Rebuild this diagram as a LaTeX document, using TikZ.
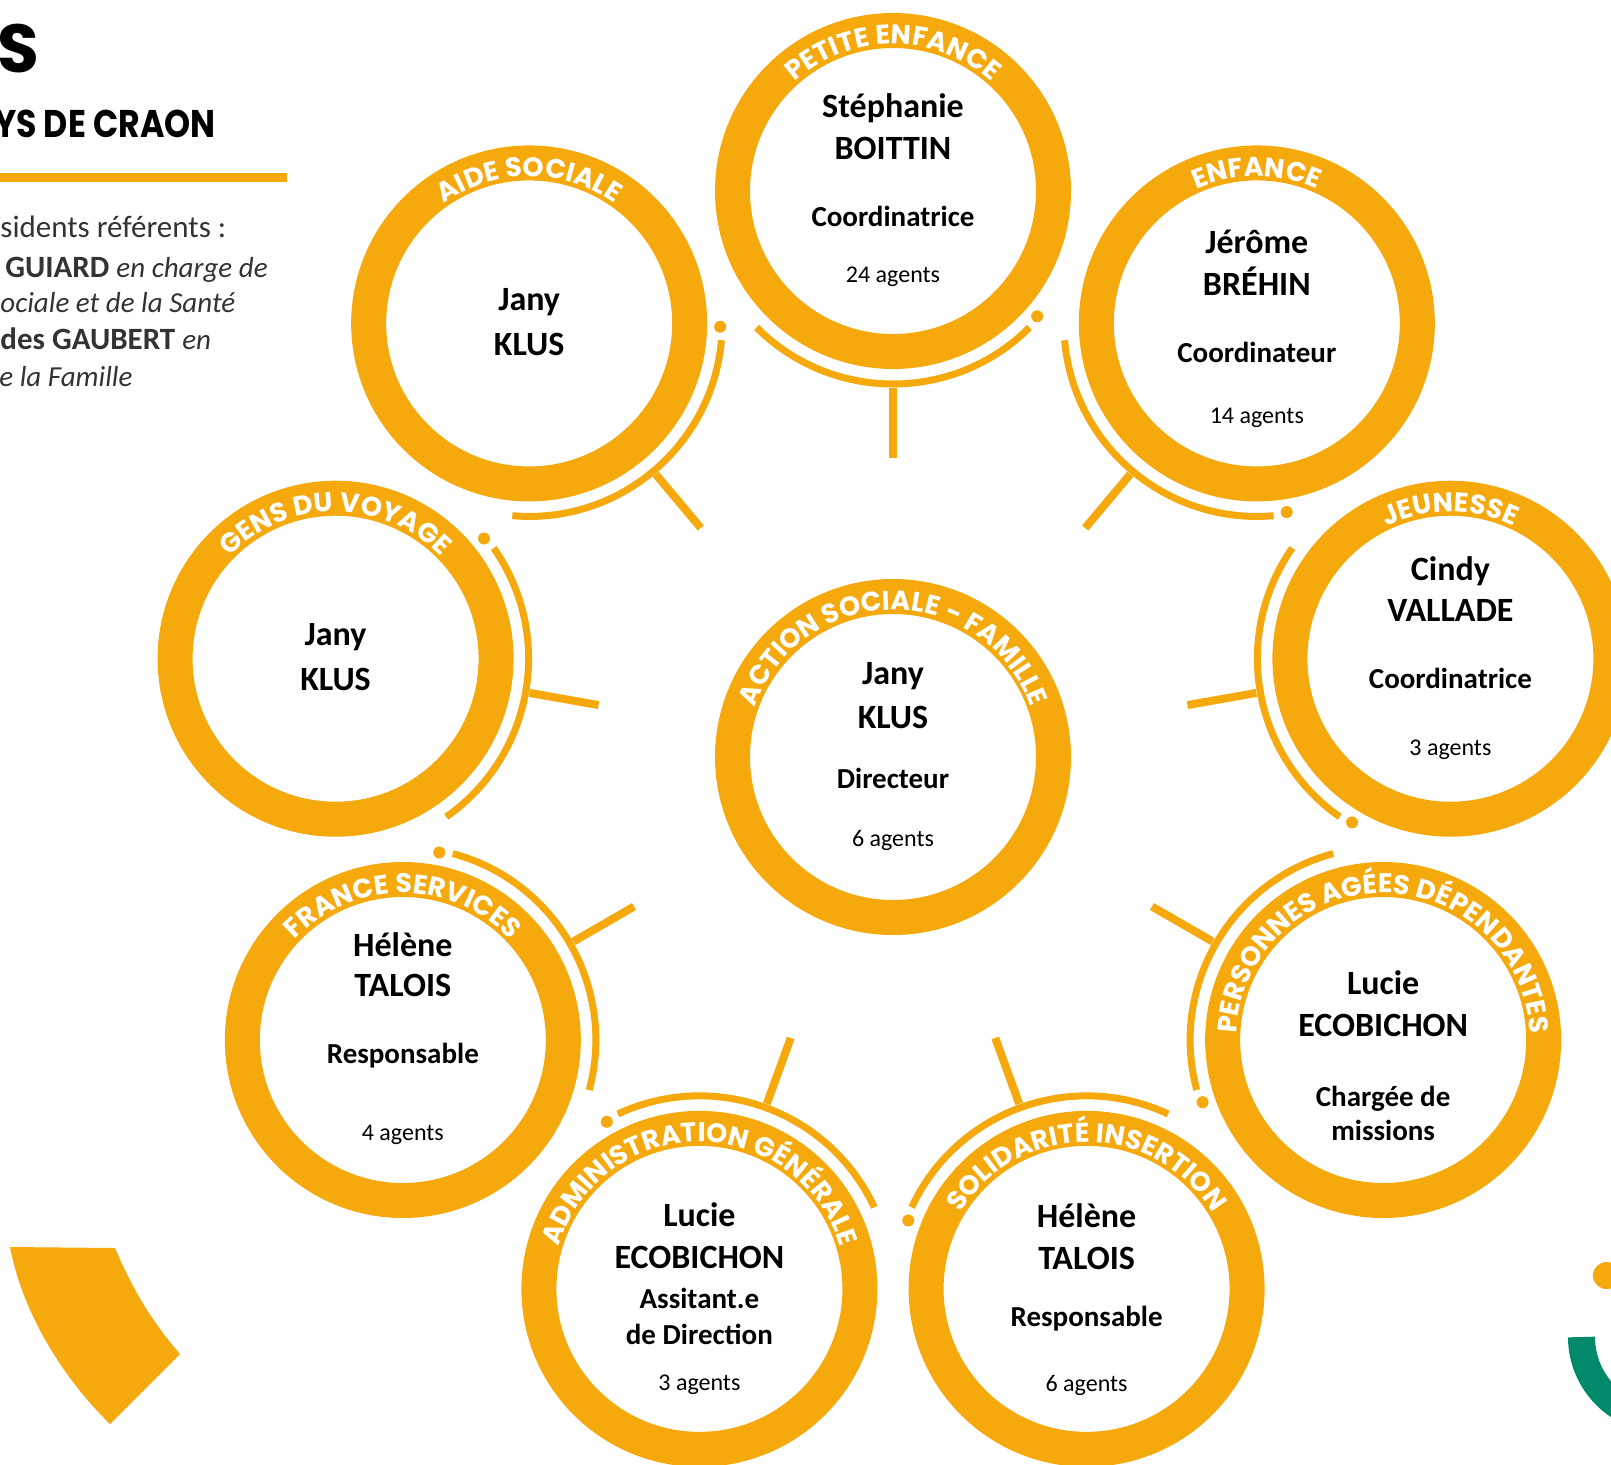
\documentclass[tikz,border=0pt]{standalone}
\usepackage{fontspec}
\setmainfont{Carlito}
\newfontfamily\bandfont{Poppins}
\newfontfamily\subfont{Poppins}[FakeStretch=0.86]
\usetikzlibrary{calc,decorations.text}
\definecolor{orng}{RGB}{245,169,13}
\definecolor{grn}{RGB}{0,137,107}
\definecolor{txtgray}{RGB}{51,51,51}
\tikzset{
  ring/.style={circle, draw=orng, line width=17.5pt, fill=white, minimum size=160.5pt, inner sep=0pt},
  side arc/.style={draw=orng, line width=3.5pt},
  stub/.style={draw=orng, line width=4pt},
  nm/.style={anchor=base, inner sep=0pt, font=\bfseries\fontsize{17}{17}\selectfont},
  role/.style={anchor=base, inner sep=0pt, font=\bfseries\fontsize{14.5}{14.5}\selectfont},
  agents/.style={anchor=base, inner sep=0pt, font=\fontsize{12}{12}\selectfont},
  side text/.style={anchor=base west, inner sep=0pt, text=txtgray, font=\fontsize{15.5}{15.5}\selectfont},
  band/.style={decorate, decoration={text along path, text align=center, text color=white,
    text={|\bandfont\bfseries\fontsize{13.5}{13.5}\selectfont|#1}}}
}
\begin{document}
\begin{tikzpicture}[x=1pt, y=1pt]
        \useasboundingbox (-446.5,-353.5) rectangle (359,378.5);
        \node [anchor=base east, inner sep=0pt, font=\bandfont\bfseries\fontsize{34}{34}\selectfont] (ttl) at (-426.5,342.5) {AS};
        \node [anchor=base east, inner sep=0pt, font=\subfont\bfseries\fontsize{19.3}{19.3}\selectfont] (sub) at (-338.5,310) {YS DE CRAON};
        \fill [orng] (-446.5,287.5) rectangle (-303,292);
        \node [side text] (l1) at (-446.5,260) {sidents référents :};
        \node [side text] (l2) at (-444,240) {\textbf{GUIARD} {\itshape\fontsize{14.5}{15}\selectfont en charge de}};
        \node [side text] (l3) at (-446.5,222.5) {\itshape\fontsize{14.5}{15}\selectfont ociale et de la Santé};
        \node [side text] (l4) at (-446.5,204) {\textbf{des GAUBERT} {\itshape\fontsize{14.5}{15}\selectfont en}};
        \node [side text] (l5) at (-447,185.5) {\itshape\fontsize{14.5}{15}\selectfont e la Famille};

        \node [ring] (ac) at (0,0) {};
        \path [band={ACTION SOCIALE - FAMILLE}] ($(ac.center)+(200:73.5)$) arc [start angle=200, end angle=-20, radius=73.5];
        \node [nm] (ac-1) at ([yshift=36.5pt]ac.center) {Jany};
        \node [nm] (ac-2) at ([yshift=14.5pt]ac.center) {KLUS};
        \node [role] (ac-3) at ([yshift=-15.5pt]ac.center) {Directeur};
        \node [agents] (ac-4) at ([yshift=-44.5pt]ac.center) {6 agents};

        \node [ring] (pe) at (90:283) {};
        \path [band={PETITE ENFANCE}] ($(pe.center)+(200:73.5)$) arc [start angle=200, end angle=-20, radius=73.5];
        \draw [side arc] ($(pe.center)+(225:96.5)$) arc [start angle=225, end angle=315, radius=96.5];
        \fill [orng] ($(pe.center)+(319:95.5)$) circle [radius=3];
        \draw [stub] ($(pe.center)!98.5pt!(ac.center)$) -- ($(pe.center)!133.5pt!(ac.center)$);
        \node [nm] (pe-1) at ([yshift=36.7pt]pe.center) {Stéphanie};
        \node [nm] (pe-2) at ([yshift=15.7pt]pe.center) {BOITTIN};
        \node [role] (pe-3) at ([yshift=-17.5pt]pe.center) {Coordinatrice};
        \node [agents] (pe-4) at ([yshift=-45.5pt]pe.center) {24 agents};

        \node [ring] (en) at (50:283) {};
        \path [band={ENFANCE}] ($(en.center)+(200:73.5)$) arc [start angle=200, end angle=-20, radius=73.5];
        \draw [side arc] ($(en.center)+(185:96.5)$) arc [start angle=185, end angle=275, radius=96.5];
        \fill [orng] ($(en.center)+(279:95.5)$) circle [radius=3];
        \draw [stub] ($(en.center)!98.5pt!(ac.center)$) -- ($(en.center)!133.5pt!(ac.center)$);
        \node [nm] (en-1) at ([yshift=34.8pt]en.center) {Jérôme};
        \node [nm] (en-2) at ([yshift=14.2pt]en.center) {BRÉHIN};
        \node [role] (en-3) at ([yshift=-19.4pt]en.center) {Coordinateur};
        \node [agents] (en-4) at ([yshift=-50pt]en.center) {14 agents};

        \node [ring] (je) at (10:283) {};
        \path [band={JEUNESSE}] ($(je.center)+(200:73.5)$) arc [start angle=200, end angle=-20, radius=73.5];
        \draw [side arc] ($(je.center)+(145:96.5)$) arc [start angle=145, end angle=235, radius=96.5];
        \fill [orng] ($(je.center)+(239:95.5)$) circle [radius=3];
        \draw [stub] ($(je.center)!98.5pt!(ac.center)$) -- ($(je.center)!133.5pt!(ac.center)$);
        \node [nm] (je-1) at ([yshift=39.3pt]je.center) {Cindy};
        \node [nm] (je-2) at ([yshift=18.5pt]je.center) {VALLADE};
        \node [role] (je-3) at ([yshift=-14.8pt]je.center) {Coordinatrice};
        \node [agents] (je-4) at ([yshift=-48.6pt]je.center) {3 agents};

        \node [ring] (pa) at (-30:283) {};
        \path [band={PERSONNES AGÉES DÉPENDANTES}] ($(pa.center)+(200:73.5)$) arc [start angle=200, end angle=-20, radius=73.5];
        \draw [side arc] ($(pa.center)+(105:96.5)$) arc [start angle=105, end angle=195, radius=96.5];
        \fill [orng] ($(pa.center)+(199:95.5)$) circle [radius=3];
        \draw [stub] ($(pa.center)!98.5pt!(ac.center)$) -- ($(pa.center)!133.5pt!(ac.center)$);
        \node [nm] (pa-1) at ([yshift=23pt]pa.center) {Lucie};
        \node [nm] (pa-2) at ([yshift=2pt]pa.center) {ECOBICHON};
        \node [role] (pa-3) at ([yshift=-33.3pt]pa.center) {Chargée de};
        \node [role] (pa-4) at ([yshift=-50pt]pa.center) {missions};

        \node [ring] (si) at (-70:283) {};
        \path [band={SOLIDARITÉ INSERTION}] ($(si.center)+(200:73.5)$) arc [start angle=200, end angle=-20, radius=73.5];
        \draw [side arc] ($(si.center)+(65:96.5)$) arc [start angle=65, end angle=155, radius=96.5];
        \fill [orng] ($(si.center)+(159:95.5)$) circle [radius=3];
        \draw [stub] ($(si.center)!98.5pt!(ac.center)$) -- ($(si.center)!133.5pt!(ac.center)$);
        \node [nm] (si-1) at ([yshift=30.5pt]si.center) {Hélène};
        \node [nm] (si-2) at ([yshift=9.5pt]si.center) {TALOIS};
        \node [role] (si-3) at ([yshift=-19pt]si.center) {Responsable};
        \node [agents] (si-4) at ([yshift=-51.5pt]si.center) {6 agents};

        \node [ring] (ag) at (-110:283) {};
        \path [band={ADMINISTRATION GÉNÉRALE}] ($(ag.center)+(200:73.5)$) arc [start angle=200, end angle=-20, radius=73.5];
        \draw [side arc] ($(ag.center)+(25:96.5)$) arc [start angle=25, end angle=115, radius=96.5];
        \fill [orng] ($(ag.center)+(119:95.5)$) circle [radius=3];
        \draw [stub] ($(ag.center)!98.5pt!(ac.center)$) -- ($(ag.center)!133.5pt!(ac.center)$);
        \node [nm] (ag-1) at ([yshift=31.4pt]ag.center) {Lucie};
        \node [nm] (ag-2) at ([yshift=10.4pt]ag.center) {ECOBICHON};
        \node [role] (ag-3) at ([yshift=-9.6pt]ag.center) {Assitant.e};
        \node [role] (ag-4) at ([yshift=-27.6pt]ag.center) {de Direction};
        \node [agents] (ag-5) at ([yshift=-50.9pt]ag.center) {3 agents};

        \node [ring] (fs) at (-150:283) {};
        \path [band={FRANCE SERVICES}] ($(fs.center)+(200:73.5)$) arc [start angle=200, end angle=-20, radius=73.5];
        \draw [side arc] ($(fs.center)+(-15:96.5)$) arc [start angle=-15, end angle=75, radius=96.5];
        \fill [orng] ($(fs.center)+(79:95.5)$) circle [radius=3];
        \draw [stub] ($(fs.center)!98.5pt!(ac.center)$) -- ($(fs.center)!133.5pt!(ac.center)$);
        \node [nm] (fs-1) at ([yshift=41.6pt]fs.center) {Hélène};
        \node [nm] (fs-2) at ([yshift=21.6pt]fs.center) {TALOIS};
        \node [role] (fs-3) at ([yshift=-11.6pt]fs.center) {Responsable};
        \node [agents] (fs-4) at ([yshift=-50pt]fs.center) {4 agents};

        \node [ring] (gv) at (170:283) {};
        \path [band={GENS DU VOYAGE}] ($(gv.center)+(200:73.5)$) arc [start angle=200, end angle=-20, radius=73.5];
        \draw [side arc] ($(gv.center)+(-55:96.5)$) arc [start angle=-55, end angle=35, radius=96.5];
        \fill [orng] ($(gv.center)+(39:95.5)$) circle [radius=3];
        \draw [stub] ($(gv.center)!98.5pt!(ac.center)$) -- ($(gv.center)!133.5pt!(ac.center)$);
        \node [nm] (gv-1) at ([yshift=6.5pt]gv.center) {Jany};
        \node [nm] (gv-2) at ([yshift=-15.7pt]gv.center) {KLUS};

        \node [ring] (as) at (130:283) {};
        \path [band={AIDE SOCIALE}] ($(as.center)+(200:73.5)$) arc [start angle=200, end angle=-20, radius=73.5];
        \draw [side arc] ($(as.center)+(-95:96.5)$) arc [start angle=-95, end angle=-5, radius=96.5];
        \fill [orng] ($(as.center)+(-1:95.5)$) circle [radius=3];
        \draw [stub] ($(as.center)!98.5pt!(ac.center)$) -- ($(as.center)!133.5pt!(ac.center)$);
        \node [nm] (as-1) at ([yshift=6.7pt]as.center) {Jany};
        \node [nm] (as-2) at ([yshift=-15.8pt]as.center) {KLUS};

        \fill [orng] (-441.5,-245) -- (-389,-245.5) .. controls (-379,-269) and (-369,-284) .. (-356.5,-298.5) -- (-391.5,-333.5) .. controls (-416.5,-309) and (-435.5,-276.5) .. (-441.5,-245) -- cycle;
        \fill [orng] (356.75,-259.25) circle [radius=6.75];
        \draw [grn, line width=13.5pt] (344.25,-290) arc [start angle=180, end angle=270, radius=41.25];
\end{tikzpicture}
\end{document}
